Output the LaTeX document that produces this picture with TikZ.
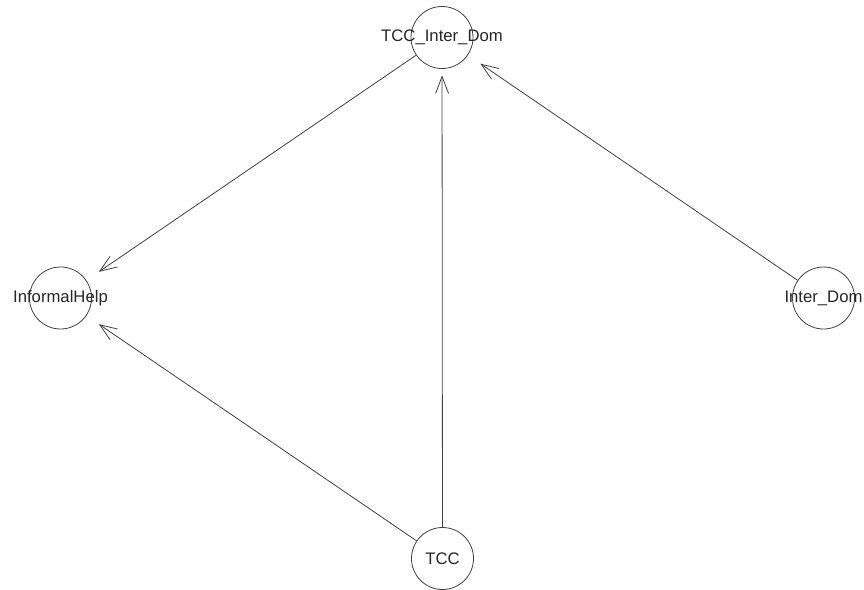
\documentclass[tikz,border=0pt]{standalone}
\usepackage{fontspec}
\setmainfont{Liberation Sans}
\usetikzlibrary{arrows.meta}
\begin{document}
\begin{tikzpicture}[x=1pt,y=-1pt,
  vtx/.style={circle,draw=black!75,line width=0.8pt,minimum size=62pt,inner sep=0pt},
  vlab/.style={font=\fontsize{16.7}{20}\selectfont,text=black!85,inner sep=0pt},
  edge/.style={draw=black!75,line width=0.8pt,-{Straight Barb[length=17pt,width=13pt,line width=0.8pt]}}]
\useasboundingbox (0,0) rectangle (864,589);
\node[vtx] (tid) at (442,37.5) {};
\node[vtx] (ih) at (60.5,298) {};
\node[vtx] (idom) at (823.5,298) {};
\node[vtx] (tcc) at (442.5,558.5) {};
\node[vlab] (tidl) at (tid.center) {TCC\_Inter\_Dom};
\node[vlab] (ihl) at (ih.center) {InformalHelp};
\node[vlab] (idoml) at (idom.center) {Inter\_Dom};
\node[vlab] (tccl) at (tcc.center) {TCC};
\draw[edge,shorten >=15pt] (tid) -- (ih);
\draw[edge,shorten >=15pt] (idom) -- (tid);
\draw[edge,shorten >=15pt] (tcc) -- (ih);
\draw[edge,shorten >=6.5pt] (tcc) -- (tid);
\end{tikzpicture}
\end{document}
